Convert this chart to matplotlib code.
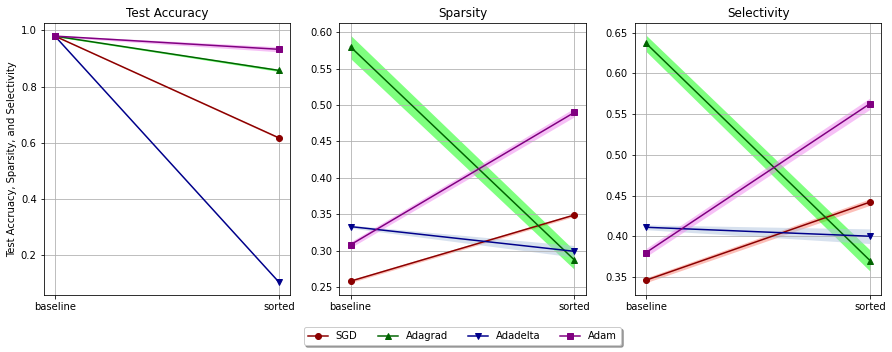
import matplotlib
matplotlib.use("Agg")
import matplotlib.pyplot as plt
import numpy as np

stages = ["baseline", "sorted"]
optimizers = ["SGD", "Adagrad", "Adadelta", "Adam"]

# mean values, [baseline, sorted]
acc_mean = {"SGD": [0.980, 0.618], "Adagrad": [0.980, 0.858],
            "Adadelta": [0.980, 0.105], "Adam": [0.980, 0.933]}
acc_std = {"SGD": [0.002, 0.003], "Adagrad": [0.002, 0.004],
           "Adadelta": [0.002, 0.002], "Adam": [0.003, 0.009]}

spa_mean = {"SGD": [0.258, 0.349], "Adagrad": [0.580, 0.287],
            "Adadelta": [0.333, 0.299], "Adam": [0.308, 0.490]}
spa_std = {"SGD": [0.002, 0.002], "Adagrad": [0.016, 0.013],
           "Adadelta": [0.002, 0.008], "Adam": [0.004, 0.006]}

sel_mean = {"SGD": [0.346, 0.442], "Adagrad": [0.637, 0.370],
            "Adadelta": [0.411, 0.400], "Adam": [0.380, 0.563]}
sel_std = {"SGD": [0.003, 0.004], "Adagrad": [0.010, 0.013],
           "Adadelta": [0.003, 0.009], "Adam": [0.005, 0.007]}

line_colors = {"SGD": "darkred", "Adagrad": "darkgreen", "Adadelta": "darkblue", "Adam": "purple"}
fill_colors = {"SGD": "salmon", "Adagrad": "lime", "Adadelta": "lightsteelblue", "Adam": "violet"}
markers = {"SGD": "o", "Adagrad": "^", "Adadelta": "v", "Adam": "s"}

fig, axes = plt.subplots(1, 3, figsize=(892 / 72, 352 / 72), dpi=72)
plt.subplots_adjust(left=0.049, right=0.988, top=0.935, bottom=0.162, wspace=0.2)

x = np.arange(len(stages))
panels = [("Test Accuracy", acc_mean, acc_std),
          ("Sparsity", spa_mean, spa_std),
          ("Selectivity", sel_mean, sel_std)]

for ax, (title, means, stds) in zip(axes, panels):
    for opt in optimizers:
        m = np.array(means[opt])
        s = np.array(stds[opt])
        ax.fill_between(x, m - s, m + s, color=fill_colors[opt], alpha=0.5, linewidth=0)
        ax.plot(x, m, color=line_colors[opt], marker=markers[opt], label=opt)
    ax.set_xticks(x)
    ax.set_xticklabels(stages)
    ax.set_title(title)
    ax.grid()

axes[0].set_ylabel("Test Accruacy, Sparsity, and Selectivity")

# legend centred under the middle panel
handles, labels = axes[0].get_legend_handles_labels()
axes[1].legend(handles, labels, loc="upper center", ncol=4, shadow=True,
               bbox_to_anchor=(0.5, -0.1))

plt.savefig("out.png", dpi=72)
